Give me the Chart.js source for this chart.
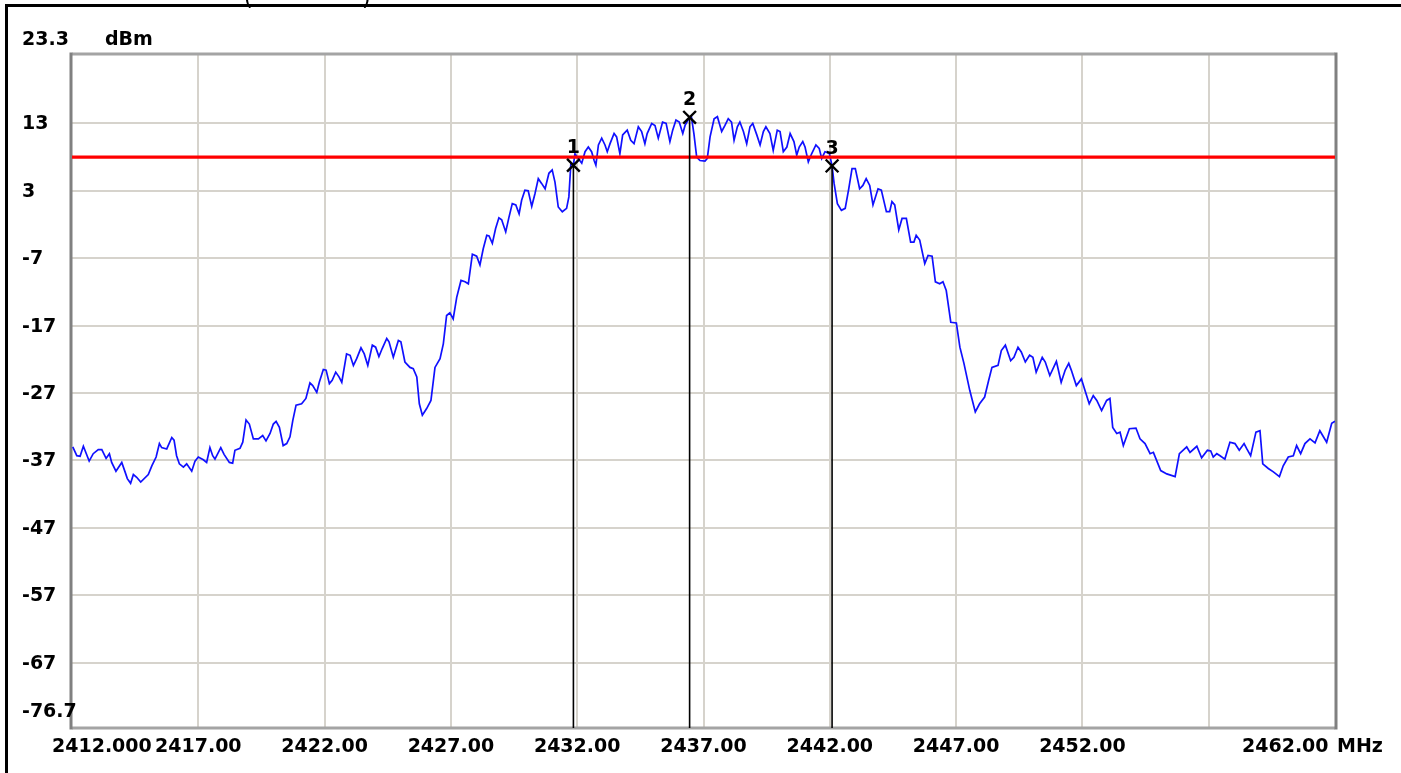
<!DOCTYPE html>
<html>
<head>
<meta charset="utf-8">
<script src="https://cdn.jsdelivr.net/npm/chart.js@4/dist/chart.umd.min.js"></script>
<style>
  html, body { margin: 0; padding: 0; background: #ffffff; }
  #wrap { width: 1401px; height: 773px; position: relative; }
</style>
</head>
<body>
<div id="wrap"><canvas id="spectrum" width="1401" height="773"></canvas></div>
<script>
// Spectrum trace: frequency (MHz) and level (dBm)
const freqMHz = [
  2412.03, 2412.19, 2412.32, 2412.45, 2412.68, 2412.84, 2413.04, 2413.18, 2413.35, 2413.48,
  2413.57, 2413.74, 2413.97, 2414.10, 2414.19, 2414.32, 2414.43, 2414.56, 2414.72, 2415.02,
  2415.16, 2415.33, 2415.46, 2415.55, 2415.75, 2415.95, 2416.04, 2416.14, 2416.25, 2416.41,
  2416.54, 2416.74, 2416.87, 2417.00, 2417.20, 2417.33, 2417.46, 2417.57, 2417.66, 2417.89,
  2418.02, 2418.23, 2418.36, 2418.45, 2418.65, 2418.76, 2418.89, 2419.02, 2419.18, 2419.38,
  2419.55, 2419.68, 2419.84, 2419.97, 2420.08, 2420.21, 2420.36, 2420.50, 2420.63, 2420.74,
  2420.87, 2421.09, 2421.26, 2421.42, 2421.53, 2421.69, 2421.79, 2421.95, 2422.06, 2422.19,

  2422.30, 2422.44, 2422.57, 2422.68, 2422.87, 2423.01, 2423.14, 2423.27, 2423.44, 2423.57,
  2423.71, 2423.89, 2424.02, 2424.15, 2424.28, 2424.46, 2424.55, 2424.72, 2424.92, 2425.02,
  2425.18, 2425.38, 2425.51, 2425.65, 2425.75, 2425.87, 2426.04, 2426.21, 2426.37, 2426.57,
  2426.70, 2426.83, 2426.96, 2427.09, 2427.23, 2427.40, 2427.56, 2427.69, 2427.85, 2428.02,
  2428.15, 2428.28, 2428.42, 2428.51, 2428.64, 2428.77, 2428.90, 2429.01, 2429.17, 2429.30,
  2429.43, 2429.57, 2429.70, 2429.80, 2429.93, 2430.06, 2430.20, 2430.33, 2430.46, 2430.59,
  2430.73, 2430.88, 2431.01, 2431.12, 2431.25, 2431.41, 2431.58, 2431.67, 2431.75, 2431.85,

  2431.91, 2432.04, 2432.18, 2432.31, 2432.44, 2432.57, 2432.67, 2432.74, 2432.84, 2432.97,
  2433.10, 2433.19, 2433.30, 2433.46, 2433.56, 2433.69, 2433.80, 2433.98, 2434.12, 2434.25,
  2434.42, 2434.55, 2434.68, 2434.77, 2434.95, 2435.08, 2435.21, 2435.38, 2435.52, 2435.67,
  2435.78, 2435.91, 2436.04, 2436.18, 2436.27, 2436.45, 2436.52, 2436.62, 2436.73, 2436.86,
  2437.06, 2437.15, 2437.26, 2437.42, 2437.55, 2437.72, 2437.85, 2437.98, 2438.11, 2438.21,
  2438.34, 2438.44, 2438.58, 2438.71, 2438.84, 2438.95, 2439.11, 2439.24, 2439.37, 2439.47,
  2439.63, 2439.76, 2439.92, 2440.03, 2440.16, 2440.30, 2440.43, 2440.58, 2440.69, 2440.79,
  2440.93, 2441.02, 2441.15, 2441.28, 2441.45, 2441.58, 2441.68, 2441.81, 2441.98, 2442.09,

  2442.17, 2442.30, 2442.46, 2442.61, 2442.75, 2442.88, 2443.01, 2443.18, 2443.31, 2443.44,
  2443.58, 2443.71, 2443.91, 2444.04, 2444.24, 2444.37, 2444.46, 2444.57, 2444.73, 2444.86,
  2445.03, 2445.20, 2445.33, 2445.42, 2445.56, 2445.76, 2445.89, 2446.05, 2446.18, 2446.35,
  2446.48, 2446.61, 2446.79, 2447.01, 2447.15, 2447.31, 2447.54, 2447.76, 2447.93, 2448.13,
  2448.29, 2448.42, 2448.66, 2448.79, 2448.95, 2449.16, 2449.29, 2449.45, 2449.58, 2449.74,
  2449.91, 2450.04, 2450.17, 2450.41, 2450.53, 2450.71, 2450.97, 2451.16, 2451.32, 2451.46,
  2451.56, 2451.76, 2451.96,

  2452.10, 2452.27, 2452.43, 2452.57, 2452.76, 2452.96, 2453.09, 2453.20, 2453.36, 2453.49,
  2453.62, 2453.86, 2454.12, 2454.28, 2454.48, 2454.68, 2454.81, 2455.10, 2455.34, 2455.67,
  2455.84, 2456.13, 2456.26, 2456.53, 2456.72, 2456.95, 2457.08, 2457.18, 2457.32, 2457.45,
  2457.64, 2457.84, 2458.04, 2458.21, 2458.40, 2458.51, 2458.66, 2458.87, 2459.03, 2459.14,
  2459.36, 2459.56, 2459.80, 2459.95, 2460.15, 2460.35, 2460.48, 2460.64, 2460.81, 2461.01,
  2461.21, 2461.40, 2461.67, 2461.87, 2462.00
];

const levelDbm = [
  -35.0, -36.3, -36.4, -34.9, -37.1, -36.0, -35.4, -35.4, -36.7, -36.0,
  -37.3, -38.6, -37.3, -38.7, -39.7, -40.4, -39.1, -39.5, -40.2, -39.1,
  -37.8, -36.5, -34.5, -35.1, -35.3, -33.6, -34.0, -36.3, -37.5, -38.0,
  -37.5, -38.6, -37.1, -36.5, -36.9, -37.3, -35.1, -36.3, -36.8, -35.1,
  -36.1, -37.3, -37.4, -35.5, -35.2, -34.3, -31.0, -31.6, -33.8, -33.8,
  -33.3, -34.1, -33.0, -31.6, -31.2, -32.1, -34.8, -34.5, -33.5, -31.1,
  -28.8, -28.6, -27.8, -25.5, -25.9, -26.9, -25.4, -23.5, -23.6, -25.6,

  -25.1, -23.9, -24.6, -25.4, -21.2, -21.4, -22.9, -21.9, -20.3, -21.2,
  -22.9, -19.9, -20.2, -21.6, -20.4, -18.9, -19.4, -21.7, -19.2, -19.4,
  -22.4, -23.2, -23.4, -24.6, -28.6, -30.3, -29.3, -28.1, -23.2, -21.9,
  -19.7, -15.5, -15.1, -16.0, -12.8, -10.3, -10.5, -10.8, -6.4, -6.7,
  -8.0, -5.6, -3.6, -3.7, -4.8, -2.6, -1.0, -1.3, -3.1, -0.9,
  1.1, 0.9, -0.4, 1.6, 3.1, 3.0, 0.7, 2.6, 4.8, 4.1,
  3.3, 5.6, 6.1, 4.3, 0.6, -0.1, 0.4, 2.1, 7.1, 6.8,

  8.5, 7.8, 7.1, 8.8, 9.5, 8.8, 7.5, 6.8, 9.8, 10.8,
  9.8, 8.8, 10.0, 11.5, 11.0, 8.5, 11.3, 12.0, 10.5, 10.0,
  12.5, 11.8, 10.0, 11.5, 13.0, 12.7, 10.8, 13.2, 13.0, 10.3,
  12.0, 13.5, 13.2, 11.5, 12.7, 13.9, 14.0, 11.5, 8.0, 7.5,
  7.4, 7.8, 11.0, 13.7, 14.0, 11.8, 12.7, 13.7, 13.2, 10.5,
  12.5, 13.2, 11.8, 10.0, 12.5, 13.0, 11.3, 9.8, 11.8, 12.5,
  11.5, 9.0, 12.0, 11.8, 8.8, 9.5, 11.5, 10.3, 8.3, 9.5,
  10.3, 9.5, 7.3, 8.5, 9.8, 9.3, 7.8, 8.8, 8.6, 6.7,

  4.1, 1.1, 0.1, 0.4, 3.3, 6.3, 6.3, 3.3, 3.8, 4.8,
  3.8, 0.9, 3.3, 3.1, -0.1, -0.1, 1.4, 0.9, -2.8, -1.1,
  -1.1, -4.6, -4.6, -3.6, -4.3, -7.8, -6.6, -6.7, -10.5, -10.8,
  -10.5, -11.8, -16.5, -16.6, -20.2, -22.6, -26.6, -29.8, -28.6, -27.6,
  -25.1, -23.2, -22.9, -20.7, -19.9, -22.2, -21.7, -20.2, -20.9, -22.4,
  -21.4, -21.7, -23.9, -21.7, -22.4, -24.4, -22.3, -25.4, -23.6, -22.6,
  -23.6, -25.9, -24.9,

  -26.6, -28.6, -27.4, -28.1, -29.6, -28.1, -27.8, -32.1, -33.0, -32.8,
  -34.8, -32.3, -32.2, -33.8, -34.5, -36.0, -35.8, -38.5, -39.0, -39.4,
  -36.0, -35.0, -35.8, -34.9, -36.6, -35.5, -35.6, -36.5, -36.0, -36.3,
  -36.8, -34.3, -34.5, -35.5, -34.5, -35.3, -36.3, -32.8, -32.6, -37.5,
  -38.2, -38.7, -39.4, -37.8, -36.5, -36.3, -34.8, -36.0, -34.5, -33.8,
  -34.4, -32.6, -34.3, -31.5, -31.2
];

// Markers
const markerNames = ['1', '2', '3'];
const markerFreqMHz = [2431.85, 2436.45, 2442.09];
const markerLevelDbm = [6.8, 13.9, 6.7];

// Limit line
const limitDbm = 8;

// Axis ranges and grid
const freqStartMHz = 2412;
const freqStopMHz = 2462;
const refLevelDbm = 23.3;
const bottomLevelDbm = -76.7;
const xGridMHz = [2417, 2422, 2427, 2432, 2437, 2442, 2447, 2452, 2457];
const yGridDbm = [13, 3, -7, -17, -27, -37, -47, -57, -67];

// Tick label texts
const xLabelMHz = [2412, 2417, 2422, 2427, 2432, 2437, 2442, 2447, 2452, 2462];
const xLabelText = ['2412.000', '2417.00', '2422.00', '2427.00', '2432.00', '2437.00', '2442.00', '2447.00', '2452.00', '2462.00'];
const yLabelText = ['13', '3', '-7', '-17', '-27', '-37', '-47', '-57', '-67'];
const refLevelText = '23.3';
const bottomLevelText = '-76.7';
const levelUnit = 'dBm';
const freqUnit = 'MHz';

const LABEL_FONT = 'bold 19px "DejaVu Sans"';

const tracePoints = freqMHz.map((f, i) => ({ x: f, y: levelDbm[i] }));

const datasets = [];

// marker crosses
datasets.push({
  label: 'markers',
  type: 'scatter',
  data: markerFreqMHz.map((f, i) => ({ x: f, y: markerLevelDbm[i] })),
  pointStyle: 'crossRot',
  pointRadius: 9,
  pointBorderWidth: 2.4,
  pointBorderColor: '#000000',
  borderColor: '#000000',
  showLine: false,
  order: 0
});

// marker stems down to the bottom of the display
markerFreqMHz.forEach((f, i) => {
  datasets.push({
    label: 'stem ' + markerNames[i],
    type: 'line',
    data: [{ x: f, y: markerLevelDbm[i] }, { x: f, y: bottomLevelDbm }],
    borderColor: '#000000',
    borderWidth: 1.6,
    pointRadius: 0,
    order: 1
  });
});

// limit line
datasets.push({
  label: 'limit',
  type: 'line',
  data: [{ x: freqStartMHz, y: limitDbm }, { x: freqStopMHz, y: limitDbm }],
  borderColor: '#ff0000',
  borderWidth: 3.2,
  pointRadius: 0,
  order: 2
});

// spectrum trace
datasets.push({
  label: 'trace',
  type: 'line',
  data: tracePoints,
  borderColor: '#1010ff',
  borderWidth: 1.7,
  pointRadius: 0,
  tension: 0,
  order: 3
});

const decorations = {
  id: 'decorations',
  beforeDraw(chart) {
    const ctx = chart.ctx;
    ctx.save();
    ctx.fillStyle = '#ffffff';
    ctx.fillRect(0, 0, chart.width, chart.height);
    ctx.restore();
  },
  beforeDatasetsDraw(chart) {
    const ctx = chart.ctx;
    const a = chart.chartArea;
    ctx.save();
    ctx.lineWidth = 3;
    ctx.strokeStyle = '#a4a4a4';
    ctx.beginPath();
    ctx.moveTo(a.left, a.top); ctx.lineTo(a.right, a.top);
    ctx.moveTo(a.left, a.bottom); ctx.lineTo(a.right, a.bottom);
    ctx.stroke();
    ctx.strokeStyle = '#808080';
    ctx.beginPath();
    ctx.moveTo(a.left - 1, a.top - 1.5); ctx.lineTo(a.left - 1, a.bottom + 1.5);
    ctx.moveTo(a.right + 1, a.top - 1.5); ctx.lineTo(a.right + 1, a.bottom + 1.5);
    ctx.stroke();
    ctx.restore();
  },
  afterDraw(chart) {
    const ctx = chart.ctx;
    const xs = chart.scales.x;
    const ys = chart.scales.y;
    ctx.save();

    // outer window frame
    ctx.fillStyle = '#000000';
    ctx.fillRect(5, 4, chart.width - 5, 3);
    ctx.fillRect(5, 4, 3, chart.height - 4);

    // parentheses of the caption above the frame
    ctx.font = '22px "DejaVu Sans"';
    ctx.textBaseline = 'alphabetic';
    ctx.textAlign = 'left';
    ctx.fillText('(', 244, 5);
    ctx.fillText(')', 362, 5);

    ctx.font = LABEL_FONT;
    ctx.fillStyle = '#000000';

    // level labels
    ctx.textAlign = 'left';
    ctx.textBaseline = 'middle';
    yGridDbm.forEach((v, i) => {
      ctx.fillText(yLabelText[i], 22, ys.getPixelForValue(v) + 1);
    });
    ctx.fillText(refLevelText, 22, ys.getPixelForValue(refLevelDbm) - 14);
    ctx.fillText(levelUnit, 105, ys.getPixelForValue(refLevelDbm) - 14);
    ctx.fillText(bottomLevelText, 22, ys.getPixelForValue(bottomLevelDbm) - 16);

    // frequency labels
    const yText = ys.getPixelForValue(bottomLevelDbm) + 19;
    xLabelMHz.forEach((f, i) => {
      const px = xs.getPixelForValue(f);
      if (i === 0) {
        ctx.textAlign = 'left';
        ctx.fillText(xLabelText[i], px - 20, yText);
      } else if (i === xLabelMHz.length - 1) {
        ctx.textAlign = 'left';
        ctx.fillText(xLabelText[i], px - 93, yText);
        ctx.fillText(freqUnit, px + 2, yText);
      } else {
        ctx.textAlign = 'center';
        ctx.fillText(xLabelText[i], px, yText);
      }
    });

    // marker numbers
    ctx.textAlign = 'center';
    ctx.textBaseline = 'middle';
    markerFreqMHz.forEach((f, i) => {
      ctx.fillText(markerNames[i], xs.getPixelForValue(f), ys.getPixelForValue(markerLevelDbm[i]) - 17);
    });

    ctx.restore();
  }
};

new Chart(document.getElementById('spectrum'), {
  type: 'line',
  data: { datasets },
  options: {
    responsive: false,
    maintainAspectRatio: false,
    devicePixelRatio: 1,
    animation: false,
    layout: { padding: { left: 72, right: 66, top: 54, bottom: 45 } },
    plugins: { legend: { display: false }, tooltip: { enabled: false } },
    scales: {
      x: {
        type: 'linear',
        min: freqStartMHz,
        max: freqStopMHz,
        afterBuildTicks: (s) => { s.ticks = xGridMHz.map(v => ({ value: v })); },
        ticks: { display: false },
        grid: { color: '#d6d3cc', lineWidth: 2, drawTicks: false },
        border: { display: false }
      },
      y: {
        type: 'linear',
        min: bottomLevelDbm,
        max: refLevelDbm,
        afterBuildTicks: (s) => { s.ticks = yGridDbm.map(v => ({ value: v })); },
        ticks: { display: false },
        grid: { color: '#d6d3cc', lineWidth: 2, drawTicks: false },
        border: { display: false }
      }
    }
  },
  plugins: [decorations]
});
</script>
</body>
</html>
